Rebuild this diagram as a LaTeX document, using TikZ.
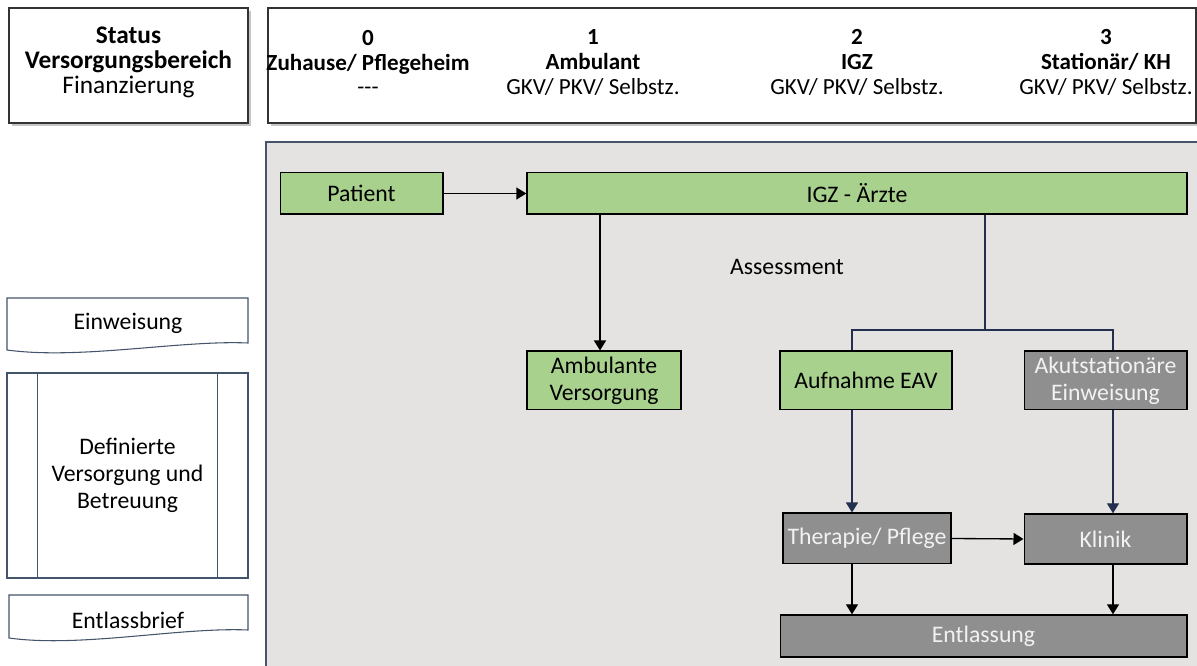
\documentclass[tikz,border=0pt]{standalone}
\usepackage{fontspec}
\setmainfont{Carlito}
\usetikzlibrary{arrows.meta, shadows, positioning}
\definecolor{boxgreen}{HTML}{A9D18E}
\definecolor{boxgray}{HTML}{8F8F8F}
\definecolor{areagray}{HTML}{E4E3E1}
\definecolor{areaframe}{HTML}{44546A}
\definecolor{navy}{HTML}{222F4F}

\begin{document}
\begin{tikzpicture}[x=0.75pt, y=-0.75pt, font=\fontsize{17.8}{20.2}\selectfont]
		\tikzstyle{Head} = [rectangle, draw=black!80, fill=white, line width=0.8pt, drop shadow={shadow xshift=2pt, shadow yshift=-2.5pt, opacity=0.45}]
		\tikzstyle{HeadText} = [align=center, font=\fontsize{17.3}{18.6}\selectfont]
		\tikzstyle{Green} = [rectangle, draw=black, fill=boxgreen, line width=1pt, text centered, align=center, inner sep=0pt]
		\tikzstyle{Gray} = [Green, fill=boxgray, text=white!95!black]
		\tikzstyle{Legend} = [draw=areaframe, fill=white, line width=0.8pt]
		\tikzstyle{arrow} = [line width=1pt, -{Triangle[width=9pt, length=7.5pt]}]
		\tikzstyle{navyarrow} = [arrow, draw=navy]
		
		\useasboundingbox (0,0) rectangle (1197,666);
		
		% header
		\node (status) [Head, minimum width=179.25pt, minimum height=86.25pt] at (128.5,65.5) {};
		\node (statustext) [HeadText, font=\fontsize{19}{18.6}\selectfont] at (128.5,62.5) {\textbf{Status}\\\textbf{Versorgungsbereich}\\Finanzierung};
		\node (header) [Head, minimum width=696pt, minimum height=86.25pt] at (732,65.5) {};
		\node (col0) [HeadText] at (368,62.5) {\textbf{0}\\\textbf{Zuhause/ Pflegeheim}\\{-}{-}{-}};
		\node (col1) [HeadText] at (593,62.5) {\textbf{1}\\\textbf{Ambulant}\\GKV/ PKV/ Selbstz.};
		\node (col2) [HeadText] at (857,62.5) {\textbf{2}\\\textbf{IGZ}\\GKV/ PKV/ Selbstz.};
		\node (col3) [HeadText] at (1106,62.5) {\textbf{3}\\\textbf{Stationär/ KH}\\GKV/ PKV/ Selbstz.};
		
		% main area
		\draw [fill=areagray, draw=areaframe, line width=0.9pt] (266,142) rectangle (1215,680);
		
		\node (Patient) [Green, minimum width=122pt, minimum height=31pt] at (361.5,193.5) {Patient};
		\node (IGZ) [Green, minimum width=495pt, minimum height=31pt] at (857,193.5) {IGZ - Ärzte};
		\node (Amb) [Green, minimum width=115.5pt, minimum height=44pt] at (604,380.5) {Ambulante\\Versorgung};
		\node (Auf) [Green, minimum width=129pt, minimum height=44pt] at (866,380.5) {Aufnahme EAV};
		\node (Akut) [Gray, minimum width=122pt, minimum height=44pt] at (1105.5,380.5) {Akutstationäre\\Einweisung};
		\node (Ther) [Gray, minimum width=126pt, minimum height=38pt] at (867,538.5) {Therapie/ Pflege};
		\node (Klinik) [Gray, minimum width=122pt, minimum height=37.5pt] at (1105.5,539) {Klinik};
		\node (Entl) [Gray, minimum width=305pt, minimum height=31.5pt] at (983.5,636) {Entlassung};
		\node (assess) at (787,267) {Assessment};
		
		\coordinate (split) at (985,330);
		\coordinate (colL) at (852,0);
		\coordinate (colR) at (1113,0);
		
		\draw [arrow] (Patient.east) -- (IGZ.west);
		\draw [arrow] ([xshift=-3pt]IGZ.south -| Amb.north) -- ([xshift=-3pt]Amb.north);
		\draw [navy, line width=1pt] (IGZ.south -| split) -- (split)
			(Auf.north -| colL) |- (split) -| (Akut.north -| colR);
		\draw [navyarrow] (Auf.south -| colL) -- (Ther.north -| colL);
		\draw [navyarrow] (Akut.south -| colR) -- (Klinik.north -| colR);
		\draw [arrow] (Ther.east) -- (Klinik.west);
		\draw [arrow] (Ther.south -| colL) -- (Entl.north -| colL);
		\draw [arrow] (Klinik.south -| colR) -- (Entl.north -| colR);
		
		% legend
		\draw [Legend] (7,298) -- (248,298) -- (248,343) .. controls (180,340) and (80,360) .. (7,350) -- cycle;
		\node (einw) at (128,323) {Einweisung};
		\node (defin) [Legend, minimum width=180.75pt, minimum height=153.75pt, align=center] at (127.5,475.5) {Definierte\\Versorgung und\\Betreuung};
		\draw [areaframe, line width=0.8pt] ([xshift=23.25pt]defin.north west) -- ([xshift=23.25pt]defin.south west);
		\draw [areaframe, line width=0.8pt] ([xshift=-23.25pt]defin.north east) -- ([xshift=-23.25pt]defin.south east);
		\draw [Legend] (9,595) -- (248,595) -- (248,630) .. controls (180,627) and (80,648) .. (9,638) -- cycle;
		\node (brief) at (128,620) {Entlassbrief};
\end{tikzpicture}
\end{document}
